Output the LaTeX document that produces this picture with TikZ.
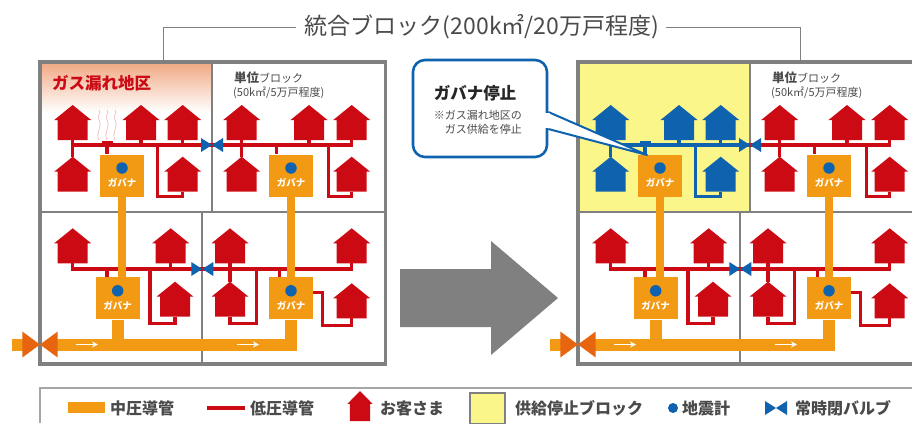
\documentclass[tikz,border=0pt]{standalone}
\usepackage{fontspec}
\usepackage{xcolor}
\setmainfont{Noto Sans CJK JP}
\usetikzlibrary{arrows.meta}

\definecolor{framegray}{HTML}{808080}
\definecolor{houseRed}{HTML}{CC0A14}
\definecolor{stopBlue}{HTML}{0F62AE}
\definecolor{pipeOrange}{HTML}{F39A14}
\definecolor{valveOrange}{HTML}{E8650F}
\definecolor{stopYellow}{HTML}{FBF68A}
\definecolor{leakTop}{HTML}{F0A47C}
\definecolor{textGray}{HTML}{4A4A4A}

\tikzset{
    frameline/.style={draw=framegray, line width=3.6pt},
    innerline/.style={draw=framegray, line width=1.7pt},
    leader/.style={draw=framegray, line width=.8pt},
    midpipe/.style={draw=pipeOrange, line width=7.3pt},
    mainpipe/.style={draw=pipeOrange, line width=12pt},
    lowpipe/.style={draw=#1, line width=3.3pt},
    lowpipe/.default=houseRed,
    flowarrow/.style={draw=white, line width=1pt, -{Stealth[length=6pt,width=6pt]}},
    governor/.style={fill=pipeOrange, minimum width=44pt, minimum height=42pt, inner sep=0pt},
    govlabel/.style={text=white, font=\fontsize{9.5}{10}\selectfont\bfseries, inner sep=0pt},
    seismo/.style={circle, fill=stopBlue, minimum size=11.5pt, inner sep=0pt},
    blocklabel/.style={text=textGray, anchor=west, inner sep=0pt},
    legendtext/.style={text=textGray, anchor=west, inner sep=0pt, font=\fontsize{16}{16}\selectfont\bfseries},
    stopbox/.style={draw=stopBlue, fill=white, line width=2.6pt, rounded corners=12pt, minimum width=134pt, minimum height=97pt},
    pics/house/.style={code={
        \fill[#1] (0,0) -- (18.5,15) -- (15,15) -- (15,35) -- (-15,35) -- (-15,15) -- (-18.5,15) -- cycle;
        \coordinate (-t) at (0,0);
        \coordinate (-b) at (0,35);
    }},
    pics/valve/.style={code={
        \fill[#1] (-11,-7) -- (0,0) -- (-11,7) -- cycle;
        \fill[#1] (11,-7) -- (0,0) -- (11,7) -- cycle;
    }}
}

% one whole block: prefix, shift, colour of the upper left part
\newcommand{\gasblock}[3]{
    \begin{scope}[xshift=#2pt]
        \draw[innerline] (212,60) -- (212,212);
        \draw[innerline] (38,212) -- (387,212);
        \draw[innerline] (202,212) -- (202,366);
        \draw[frameline] (40,62) rectangle (385.5,364);

        \foreach \hname/\hx/\hy in {a1/72.7/105, a2/141/105, a3/182.7/105, a4/72.7/156.7, a5/182.7/156.7}
            \pic (#1\hname) at (\hx,\hy) {house=#3};
        \foreach \hname/\hx/\hy in {b1/241.7/105, b2/309/105, b3/351.7/105, b4/241.7/156.7, b5/351.7/156.7,
            c1/72.7/228.3, c2/170.7/228.3, c3/175/281.7, d1/230/228.3, d2/351.7/228.3, d3/230/281.7, d4/351.7/283.3}
            \pic (#1\hname) at (\hx,\hy) {house=houseRed};

        \node[governor] (#1g1) at (122,175.5) {};
        \node[governor] (#1g2) at (291,175.5) {};
        \node[governor] (#1g3) at (117.7,298.3) {};
        \node[governor] (#1g4) at (291,298.3) {};
        \coordinate (#1v1) at (212,145);
        \coordinate (#1v2) at (202.3,269);
        \coordinate (#1vm) at (40,344.5);
        \coordinate (#1in) at (12,344.5);
        \coordinate (#1m0) at (50,344.5);
        \coordinate (#1j1) at (157.3,145);
        \coordinate (#1j2) at (107,145);
        \coordinate (#1j3) at (328.3,145);
        \coordinate (#1j4) at (276.7,145);
        \coordinate (#1j5) at (150,269);
        \coordinate (#1j6) at (107,269);
        \coordinate (#1j7) at (256.7,269);
        \coordinate (#1j8) at (279.3,269);

        % low pressure, upper row
        \draw[lowpipe=#3] (#1a1-b) |- (#1v1);
        \draw[lowpipe=#3] (#1a1-b) -- (#1a4-t);
        \draw[lowpipe=#3] (#1a2-b) -- (#1a2-b |- #1v1);
        \draw[lowpipe=#3] (#1a3-b) -- (#1a3-b |- #1v1);
        \draw[lowpipe=#3] (#1a5-b) -- ++(0,5) -| (#1j1);
        \draw[lowpipe=#3] (#1j2) -- (#1j2 |- #1g1.north);
        \fill[#3] ([shift={(-5.5pt,4pt)}]#1j2) rectangle ([shift={(5.5pt,-1pt)}]#1j2);
        \draw[lowpipe] (#1v1) -| (#1b3-b);
        \draw[lowpipe] (#1b1-b) -- (#1b4-t);
        \draw[lowpipe] (#1b2-b) -- (#1b2-b |- #1v1);
        \draw[lowpipe] (#1b5-b) -- ++(0,5) -| (#1j3);
        \draw[lowpipe] (#1j4) -- (#1j4 |- #1g2.north);

        % low pressure, lower row
        \draw[lowpipe] (#1c1-b) |- (#1v2);
        \draw[lowpipe] (#1v2) -| (#1d2-b);
        \draw[lowpipe] (#1c2-b) -- (#1c2-b |- #1v2);
        \draw[lowpipe] (#1c3-b) -- ++(0,6.6) -| (#1j5);
        \draw[lowpipe] (#1j6) -- (#1j6 |- #1g3.north);
        \draw[lowpipe] (#1d1-b) -- (#1d3-t);
        \draw[lowpipe] (#1d3-b) -- ++(0,6.6) -| (#1j7);
        \draw[lowpipe] (#1j8) -- (#1j8 |- #1g4.north);
        \draw[lowpipe] ([yshift=6pt]#1g4.east) -- ++(9,0) -- ++(0,33) -| (#1d4-b);

        % medium pressure
        \draw[midpipe] (#1g1) -- (#1g1 |- #1g3);
        \draw[midpipe] (#1g2) -- (#1g4);
        \draw[mainpipe] (#1g3) -- (#1g3 |- #1vm);
        \draw[mainpipe] (#1g4) |- (#1m0);
        \draw[mainpipe] (#1in) -- ([xshift=-8pt]#1vm);
        \draw[flowarrow] ([xshift=36pt]#1vm) -- ++(22,0);
        \draw[flowarrow] ([xshift=197pt]#1vm) -- ++(22,0);

        \pic at (#1v1) {valve=stopBlue};
        \pic at (#1v2) {valve=stopBlue};
        \pic[xscale=1.6, yscale=1.85] at (#1vm) {valve=valveOrange};

        \foreach \gname in {g1,g2,g3,g4}{
            \node[seismo] at ([yshift=7.5pt]#1\gname.center) {};
            \node[govlabel] at ([yshift=-7.5pt]#1\gname.center) {ガバナ};
        }

        \node[blocklabel] (#1unit) at (234,78) {\fontsize{12.5}{13}\selectfont\bfseries 単位\fontsize{11}{13}\selectfont\mdseries ブロック};
        \node[blocklabel] (#1area) at (233,93) {\fontsize{11}{13}\selectfont (50k㎡/5万戸程度)};
    \end{scope}
}

\begin{document}
\begin{tikzpicture}[x=1pt, y=-1pt]
    \clip (0,0) rectangle (912,423);

    \node[text=textGray, inner sep=0pt, font=\fontsize{23}{24}\selectfont] (title) at (482,27) {統合ブロック(200k㎡/20万戸程度)};
    \coordinate (blockL) at (163,60);
    \coordinate (blockR) at (800,60);
    \draw[leader] (title.west) ++(-9pt,0) -| (blockL);
    \draw[leader] (title.east) ++(7pt,0) -| (blockR);

    \shade[top color=leakTop, bottom color=white] (38,60) rectangle (212,112);
    \fill[stopYellow] (576,60) rectangle (750,212);

    \gasblock{L}{0}{houseRed}
    \gasblock{R}{538}{stopBlue}

    % gas leak
    \node[text=houseRed, anchor=west, inner sep=0pt, font=\fontsize{16.5}{17}\selectfont\bfseries] (leak) at (52,83) {ガス漏れ地区};
    \foreach \lx in {99,107,115}
        \draw[draw=houseRed!25, line width=.8pt] (\lx,140) .. controls (\lx-4,132) and (\lx+4,128) .. (\lx,120) .. controls (\lx-3,116) and (\lx+3,113) .. (\lx,110);

    % arrow between the two states
    \fill[framegray] (400,269) -- (491,269) -- (491,241) -- (558,298) -- (491,355) -- (491,327) -- (400,327) -- cycle;

    % callout
    \node[stopbox] (stopnote) at (480,108.5) {};
    \coordinate (stoptip) at (647,155);
    \draw[stopBlue, fill=white, line width=2pt, line join=round] ([yshift=-3.5pt]stopnote.east) -- (stoptip) -- ([yshift=-20.5pt]stopnote.east);
    \fill[white] ([shift={(-3pt,-4.5pt)}]stopnote.east) rectangle ([shift={(1.5pt,-19.5pt)}]stopnote.east);
    \node[text=black!85, inner sep=0pt, font=\fontsize{16.5}{17}\selectfont\bfseries] (stoptitle) at (475,93) {ガバナ停止};
    \node[text=textGray, inner sep=0pt, anchor=east, font=\fontsize{11}{11}\selectfont] (stopa) at (522,115) {※ガス漏れ地区の};
    \node[text=textGray, inner sep=0pt, anchor=east, font=\fontsize{11}{11}\selectfont] (stopb) at (522,129) {ガス供給を停止};

    % legend
    \coordinate (legA) at (912,388);
    \coordinate (legB) at (40,423);
    \draw[draw=framegray!70, line width=1.2pt] (legA) -| (legB);
    \fill[pipeOrange] (68,402) rectangle (105,413);
    \node[legendtext] (legmid) at (110,408) {中圧導管};
    \coordinate (legl) at (207,408);
    \coordinate (legr) at (245,408);
    \draw[lowpipe] (legl) -- (legr);
    \node[legendtext] (leglow) at (250,408) {低圧導管};
    \pic[xscale=.68, yscale=.86] (leghouse) at (360,391) {house=houseRed};
    \node[legendtext] (legcus) at (380,408) {お客さま};
    \draw[draw=framegray, fill=stopYellow, line width=1.5pt] (470,393) rectangle (505,424);
    \node[legendtext] (legstop) at (515,408) {供給停止ブロック};
    \node[seismo, minimum size=10pt] (legdot) at (673,408) {};
    \node[legendtext] (legquake) at (682,408) {地震計};
    \pic at (776,408) {valve=stopBlue};
    \node[legendtext] (legvalve) at (795,408) {常時閉バルブ};
\end{tikzpicture}
\end{document}
